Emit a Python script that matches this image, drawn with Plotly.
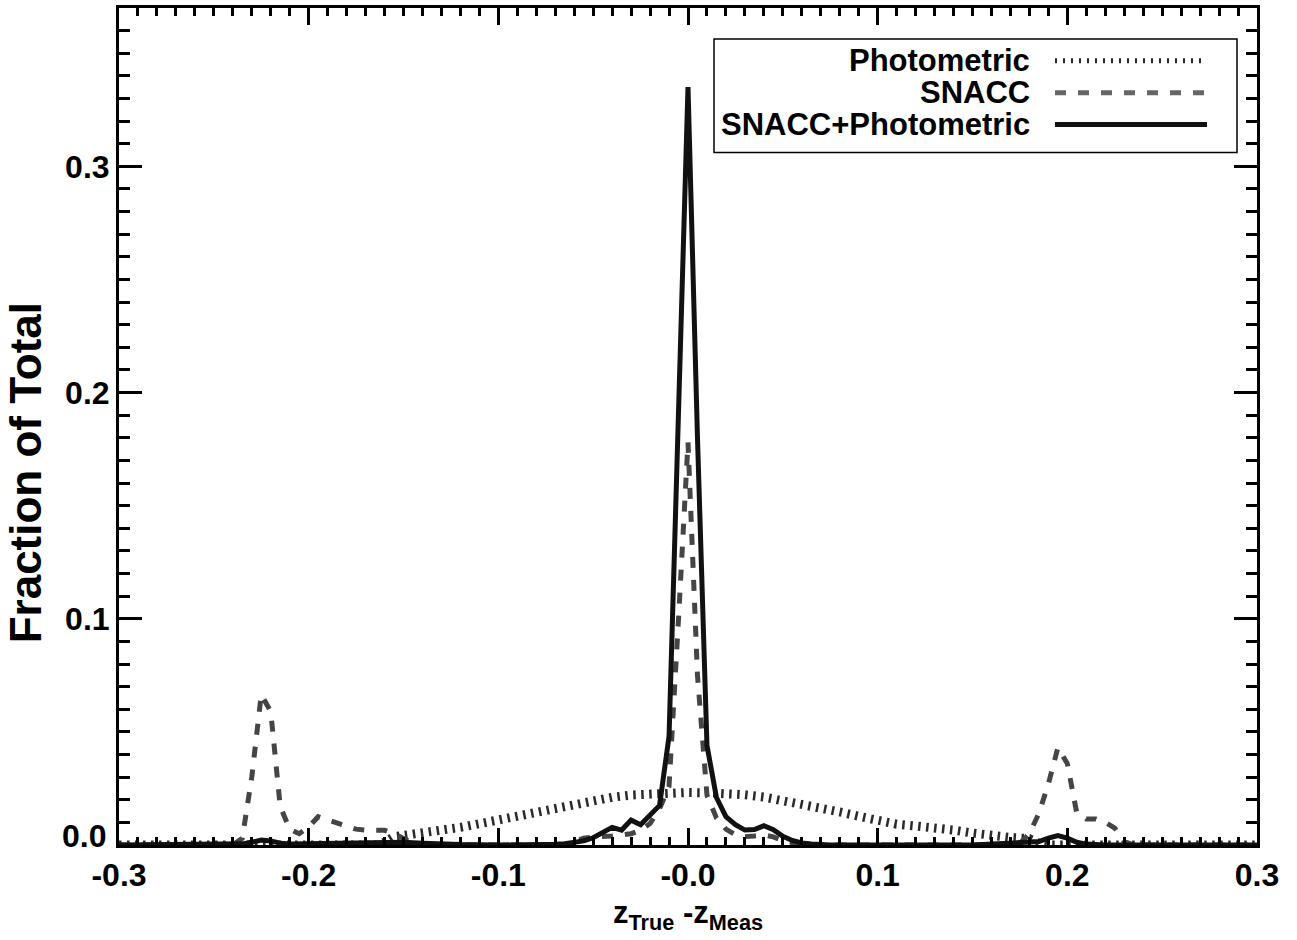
import plotly.graph_objects as go

# ---------------- data ----------------
phot_x = [-0.300, -0.165, -0.160, -0.155, -0.150, -0.14, -0.13, -0.12, -0.11, -0.10,
          -0.09, -0.08, -0.07, -0.06, -0.05, -0.04, -0.03, -0.02, -0.01, 0.00,
          0.01, 0.02, 0.03, 0.04, 0.05, 0.06, 0.07, 0.08, 0.09, 0.10,
          0.11, 0.12, 0.13, 0.14, 0.15, 0.16, 0.17, 0.18, 0.185, 0.19, 0.30]
phot_y = [0.0, 0.0, 0.0012, 0.0038, 0.0042, 0.0052, 0.0064, 0.0078, 0.0094, 0.0112,
          0.0130, 0.0147, 0.0164, 0.0182, 0.0198, 0.0211, 0.0221, 0.0227, 0.0231, 0.0232,
          0.0231, 0.0228, 0.0222, 0.0212, 0.0198, 0.0182, 0.0164, 0.0146, 0.0127, 0.0108,
          0.0092, 0.0084, 0.0078, 0.0066, 0.0053, 0.0040, 0.0033, 0.0028, 0.0008, 0.0, 0.0]

snacc_x = [-0.300, -0.240, -0.235, -0.230, -0.225, -0.220, -0.215, -0.210, -0.205, -0.200,
           -0.195, -0.190, -0.185, -0.180, -0.175, -0.170, -0.165, -0.160, -0.155, -0.150,
           -0.145, -0.140, -0.065, -0.060, -0.055, -0.050, -0.045, -0.040, -0.035, -0.030,
           -0.025, -0.020, -0.015, -0.010, -0.005, 0.000, 0.005, 0.010, 0.015, 0.020,
           0.025, 0.030, 0.035, 0.040, 0.045, 0.050, 0.055, 0.060, 0.170, 0.175,
           0.180, 0.185, 0.190, 0.195, 0.200, 0.205, 0.210, 0.215, 0.220, 0.225,
           0.230, 0.235, 0.300]
snacc_y = [0.0, 0.0, 0.0030, 0.0300, 0.0665, 0.0590, 0.0170, 0.0070, 0.0050, 0.0080,
           0.0125, 0.0110, 0.0095, 0.0080, 0.0070, 0.0066, 0.0066, 0.0065, 0.0050, 0.0030,
           0.0008, 0.0, 0.0, 0.0015, 0.0030, 0.0035, 0.0036, 0.0040, 0.0044, 0.0050,
           0.0065, 0.0095, 0.0160, 0.0260, 0.1000, 0.1780, 0.0750, 0.0220, 0.0120, 0.0070,
           0.0045, 0.0037, 0.0040, 0.0044, 0.0036, 0.0020, 0.0010, 0.0, 0.0, 0.0008,
           0.0050, 0.0140, 0.0270, 0.0430, 0.0360, 0.0140, 0.0115, 0.0115, 0.0100, 0.0075,
           0.0015, 0.0, 0.0]

comb_x = [-0.300, -0.240, -0.235, -0.230, -0.225, -0.220, -0.215, -0.210, -0.200, -0.190,
          -0.180, -0.170, -0.160, -0.150, -0.140, -0.130, -0.120, -0.100, -0.080, -0.070,
          -0.065, -0.060, -0.055, -0.050, -0.045, -0.040, -0.035, -0.030, -0.025, -0.020,
          -0.015, -0.010, -0.005, 0.000, 0.005, 0.010, 0.015, 0.020, 0.025, 0.030,
          0.035, 0.040, 0.045, 0.050, 0.055, 0.060, 0.065, 0.075, 0.150, 0.160,
          0.170, 0.180, 0.185, 0.190, 0.195, 0.200, 0.205, 0.210, 0.220, 0.300]
comb_y = [0.0, 0.0, 0.0005, 0.0012, 0.0022, 0.0018, 0.0008, 0.0004, 0.0006, 0.0008,
          0.0010, 0.0012, 0.0013, 0.0012, 0.0008, 0.0004, 0.0002, 0.0, 0.0, 0.0003,
          0.0006, 0.0010, 0.0018, 0.0032, 0.0055, 0.0078, 0.0066, 0.0110, 0.0090, 0.0130,
          0.0175, 0.0480, 0.1900, 0.3350, 0.1800, 0.0440, 0.0210, 0.0125, 0.0090, 0.0066,
          0.0068, 0.0085, 0.0068, 0.0038, 0.0020, 0.0009, 0.0004, 0.0, 0.0, 0.0003,
          0.0005, 0.0008, 0.0015, 0.0030, 0.0042, 0.0030, 0.0012, 0.0004, 0.0, 0.0]

series_names = ["Photometric", "SNACC", "SNACC+Photometric"]
x_tick_vals = [-0.3, -0.2, -0.1, 0.0, 0.1, 0.2, 0.3]
x_tick_text = ["-0.3", "-0.2", "-0.1", "-0.0", "0.1", "0.2", "0.3"]
y_tick_vals = [0.0, 0.1, 0.2, 0.3]
y_tick_text = ["", "0.1", "0.2", "0.3"]

# ---------------- styles ----------------
FONT = "Liberation Sans"
C_PHOT = "#2a2a2a"
C_SNACC = "#454545"
C_COMB = "#111111"
DOT = "2.5px,5.5px"
DASH = "11px,12px"

fig = go.Figure()
fig.add_trace(go.Scatter(x=phot_x, y=phot_y, mode="lines", name=series_names[0],
                         line=dict(color=C_PHOT, width=9, dash=DOT)))
fig.add_trace(go.Scatter(x=snacc_x, y=snacc_y, mode="lines", name=series_names[1],
                         line=dict(color=C_SNACC, width=5, dash=DASH)))
fig.add_trace(go.Scatter(x=comb_x, y=comb_y, mode="lines", name=series_names[2],
                         line=dict(color=C_COMB, width=5)))

L, R, T, B = 119, 40, 5, 95
W, H = 1297, 940
PW, PH = W - L - R, H - T - B


def px(xp):
    return (xp - L) / PW


def py(yp):
    return (H - B - yp) / PH


axis_common = dict(showline=True, linewidth=3, linecolor="black", mirror="ticks",
                   ticks="inside", tickwidth=2.5, tickcolor="black",
                   showgrid=False, zeroline=False,
                   tickfont=dict(family=FONT, size=32, color="black", weight="bold"))

fig.update_xaxes(range=[-0.3, 0.3], tickmode="array", tickvals=x_tick_vals,
                 ticktext=x_tick_text, ticklen=17,
                 minor=dict(tickmode="linear", tick0=0, dtick=0.01, ticks="inside",
                            ticklen=8, tickwidth=2.5, tickcolor="black"),
                 **axis_common)
fig.update_yaxes(range=[0, 0.37], tickmode="array", tickvals=y_tick_vals,
                 ticktext=y_tick_text, ticklen=23,
                 minor=dict(tickmode="linear", tick0=0, dtick=0.01, ticks="inside",
                            ticklen=11, tickwidth=2.5, tickcolor="black"),
                 **axis_common)

annotations = [
    dict(text="0.0", x=px(108), y=py(836), xref="paper", yref="paper",
         xanchor="right", yanchor="middle", showarrow=False,
         font=dict(family=FONT, size=32, color="black", weight="bold")),
    dict(text="z<sub>True</sub> -z<sub>Meas</sub>", x=0.5, y=py(915),
         xref="paper", yref="paper", xanchor="center", yanchor="middle",
         showarrow=False, font=dict(family=FONT, size=31, color="black", weight="bold")),
    dict(text="Fraction of Total", x=px(25), y=py(472), xref="paper", yref="paper",
         xanchor="center", yanchor="middle", textangle=-90, showarrow=False,
         font=dict(family=FONT, size=44, color="black", weight="bold")),
]

shapes = [dict(type="rect", xref="paper", yref="paper", x0=px(714), x1=px(1237),
               y0=py(150), y1=py(36), line=dict(color="black", width=1.5),
               fillcolor="white", layer="above")]

leg_rows = [58, 90, 122]
leg_styles = [dict(color=C_PHOT, width=5, dash="2px,6px"),
              dict(color="#666666", width=5, dash=DASH),
              dict(color=C_COMB, width=5)]
for name, yrow, st in zip(series_names, leg_rows, leg_styles):
    annotations.append(dict(text=name, x=px(1032), y=py(yrow), xref="paper", yref="paper",
                            xanchor="right", yanchor="middle", showarrow=False,
                            font=dict(family=FONT, size=31, color="black", weight="bold")))
    shapes.append(dict(type="line", xref="paper", yref="paper", x0=px(1055), x1=px(1207),
                       y0=py(yrow), y1=py(yrow), line=st, layer="above"))

fig.update_layout(width=W, height=H, margin=dict(l=L, r=R, t=T, b=B),
                  plot_bgcolor="white", paper_bgcolor="white", showlegend=False,
                  annotations=annotations, shapes=shapes)

fig.write_html("out.html")
